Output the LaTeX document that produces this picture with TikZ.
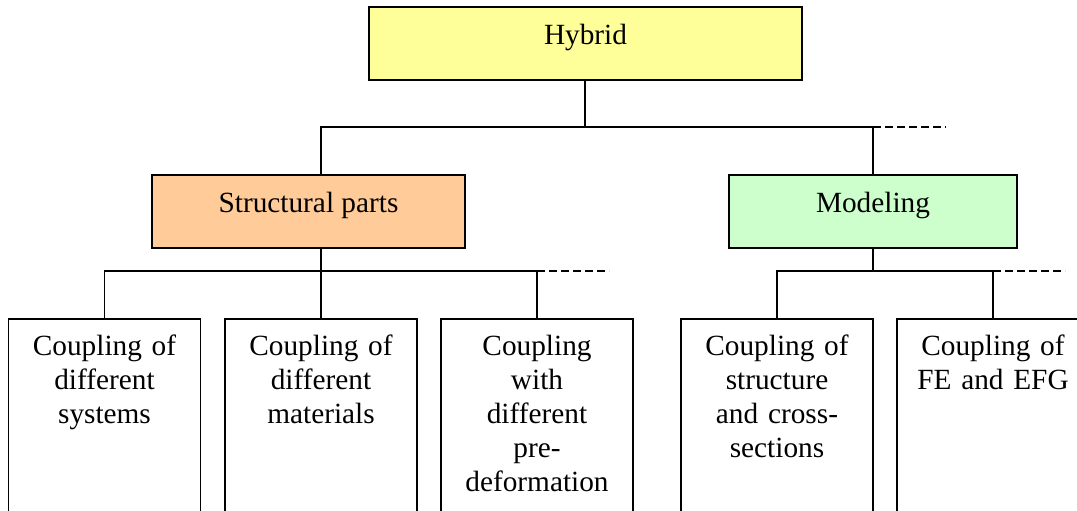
\documentclass[tikz,border=0pt]{standalone}
\usepackage{fontspec}
\setmainfont{Liberation Serif}
\begin{document}
\begin{tikzpicture}[x=1pt,y=-1pt,
  box/.style={draw=black, line width=1.6pt, inner xsep=0pt, inner ysep=0pt,
    font=\fontsize{29.3}{34}\selectfont, anchor=north},
  topbox/.style={box, text height=38pt, text depth=35pt},
  leaf/.style={box, fill=white, text width=192pt, align=center,
    text height=37pt, text depth=156pt},
  conn/.style={line width=1.2pt, line cap=rect},
  more/.style={line width=1.2pt, dash pattern=on 8pt off 4pt}]
\definecolor{hybcol}{RGB}{255,255,153}
\definecolor{strcol}{RGB}{255,204,153}
\definecolor{modcol}{RGB}{204,255,204}
\useasboundingbox (0,0) rectangle (1077,511);
\clip (0,0) rectangle (1077,511);
% nodes
\node[topbox, fill=hybcol, minimum width=433pt] (hyb) at (585.5,6) {Hybrid};
\node[topbox, fill=strcol, minimum width=313pt] (str) at (308.5,174) {Structural parts};
\node[topbox, fill=modcol, minimum width=288pt] (mod) at (873,174) {Modeling};
\node[leaf] (l1) at (104.5,318) {Coupling of\\different\\systems};
\node[leaf] (l2) at (321,318) {Coupling of\\different\\materials};
\node[leaf] (l3) at (537,318) {Coupling\\with\\different\\pre-\\deformation};
\node[leaf] (l4) at (777,318) {Coupling of\\structure\\and cross-\\sections};
\node[leaf] (l5) at (993,318) {Coupling of\\FE and EFG};
% junction coordinates
\coordinate (j0) at (585,127);
\coordinate (ja) at (321,127);
\coordinate (jb) at (873,127);
\coordinate (jbend) at (946,127);
\coordinate (js) at (321,271);
\coordinate (jsl) at (104.5,271);
\coordinate (jsr) at (537,271);
\coordinate (jsend) at (609,271);
\coordinate (jm) at (873,271);
\coordinate (jml) at (777,271);
\coordinate (jmr) at (993,271);
\coordinate (jmend) at (1065,271);
% connectors
\draw[conn] (hyb.south -| j0) -- (j0);
\draw[conn] (ja) -- (jb);
\draw[more] (jb) -- (jbend);
\draw[conn] (ja) -- (str.north -| ja);
\draw[conn] (jb) -- (mod.north);
\draw[conn] (str.south -| js) -- (js);
\draw[conn] (jsl) -- (jsr);
\draw[more] (jsr) -- (jsend);
\draw[conn] (jsl) -- (l1.north);
\draw[conn] (js) -- (l2.north);
\draw[conn] (jsr) -- (l3.north);
\draw[conn] (mod.south) -- (jm);
\draw[conn] (jml) -- (jmr);
\draw[more] (jmr) -- (jmend);
\draw[conn] (jml) -- (l4.north);
\draw[conn] (jmr) -- (l5.north);
\end{tikzpicture}
\end{document}
